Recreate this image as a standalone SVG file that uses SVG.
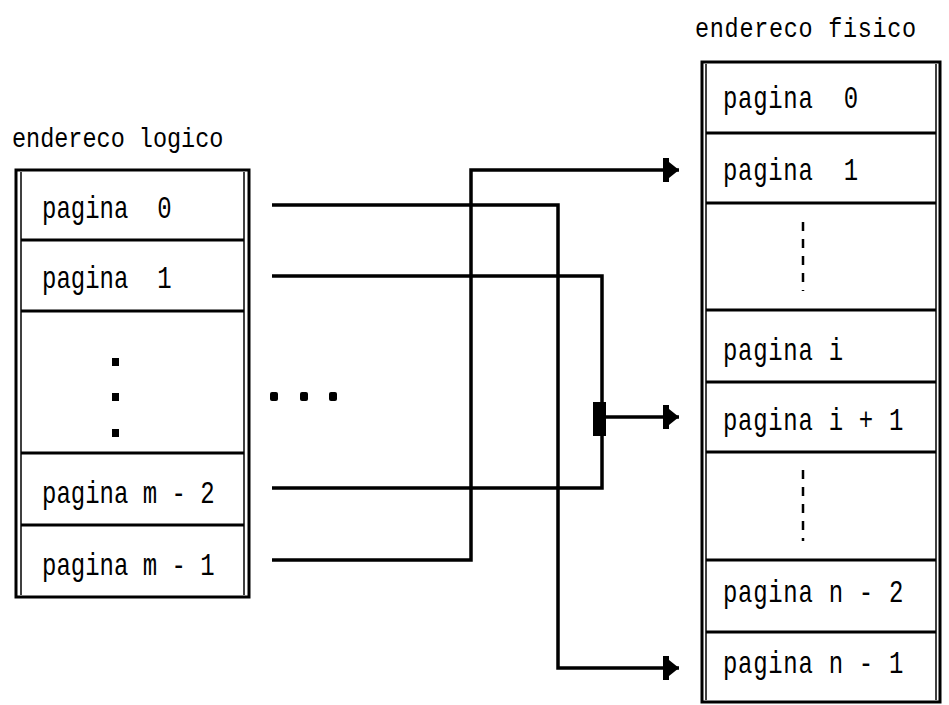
<svg xmlns="http://www.w3.org/2000/svg" width="949" height="705" viewBox="0 0 949 705">
  <style>
    .lbl { font-family: "Liberation Mono", "DejaVu Sans Mono", monospace; font-size: 24px; fill: #000; white-space: pre; }
    .wide { letter-spacing: 0.7px; }
    .ttl { font-family: "Liberation Mono", "DejaVu Sans Mono", monospace; font-size: 23.5px; fill: #000; }
    .frame { fill: #fff; stroke: #000; stroke-width: 3; }
    .inner { stroke: #000; stroke-width: 1.5; fill: none; }
    .div { stroke: #000; stroke-width: 3; }
    .wire { fill: none; stroke: #000; stroke-width: 3.5; stroke-linejoin: miter; }
    .dash { stroke: #000; stroke-width: 2.5; stroke-dasharray: 9 8; }
  </style>
  <defs>
    <marker id="head" markerUnits="userSpaceOnUse" markerWidth="18" markerHeight="26" refX="16" refY="13" orient="auto" viewBox="0 0 18 26">
      <path d="M0,1 H6 V5 L16,13 L6,21 V25 H0 Z" fill="#000"/>
    </marker>
  </defs>
  <rect width="949" height="705" fill="#fff"/>

  <!-- logical address space -->
  <text class="ttl" transform="translate(12,147) scale(1,1.2)">endereco logico</text>
  <g id="logico">
    <rect class="frame" x="16" y="170" width="233" height="427"/>
    <line class="inner" x1="21" y1="172" x2="21" y2="595"/>
    <line class="inner" x1="244" y1="172" x2="244" y2="595"/>
    <line class="div" x1="21" y1="240" x2="244" y2="240"/>
    <line class="div" x1="21" y1="311" x2="244" y2="311"/>
    <line class="div" x1="21" y1="453" x2="244" y2="453"/>
    <line class="div" x1="21" y1="525" x2="244" y2="525"/>
  </g>
  <g id="log-p0"><text class="lbl" xml:space="preserve" transform="translate(42,218) scale(1,1.33)">pagina  0</text></g>
  <g id="log-p1"><text class="lbl" xml:space="preserve" transform="translate(42,288) scale(1,1.33)">pagina  1</text></g>
  <g id="log-gap">
    <rect x="112" y="358" width="7" height="8"/>
    <rect x="112" y="393" width="7" height="8"/>
    <rect x="112" y="429" width="7" height="8"/>
  </g>
  <g id="log-pm2"><text class="lbl" transform="translate(42,503) scale(1,1.33)">pagina m - 2</text></g>
  <g id="log-pm1"><text class="lbl" transform="translate(42,575) scale(1,1.33)">pagina m - 1</text></g>

  <!-- physical address space -->
  <text class="ttl" transform="translate(695,37) scale(1,1.2)" letter-spacing="0.7">endereco fisico</text>
  <g id="fisico">
    <rect class="frame" x="702" y="62" width="238" height="640"/>
    <line class="inner" x1="706" y1="64" x2="706" y2="700"/>
    <line class="inner" x1="936" y1="64" x2="936" y2="700"/>
    <line class="div" x1="706" y1="133" x2="936" y2="133"/>
    <line class="div" x1="706" y1="203" x2="936" y2="203"/>
    <line class="div" x1="706" y1="310" x2="936" y2="310"/>
    <line class="div" x1="706" y1="382" x2="936" y2="382"/>
    <line class="div" x1="706" y1="452" x2="936" y2="452"/>
    <line class="div" x1="706" y1="560" x2="936" y2="560"/>
    <line class="div" x1="706" y1="632" x2="936" y2="632"/>
  </g>
  <g id="fis-p0"><text class="lbl wide" xml:space="preserve" transform="translate(723,108) scale(1,1.33)">pagina  0</text></g>
  <g id="fis-p1"><text class="lbl wide" xml:space="preserve" transform="translate(723,180) scale(1,1.33)">pagina  1</text></g>
  <g id="fis-gap1"><line class="dash" x1="803" y1="222" x2="803" y2="291"/></g>
  <g id="fis-pi"><text class="lbl wide" transform="translate(723,360) scale(1,1.33)">pagina i</text></g>
  <g id="fis-pi1"><text class="lbl wide" transform="translate(723,430) scale(1,1.33)">pagina i + 1</text></g>
  <g id="fis-gap2"><line class="dash" x1="803" y1="470" x2="803" y2="541"/></g>
  <g id="fis-pn2"><text class="lbl wide" transform="translate(723,602) scale(1,1.33)">pagina n - 2</text></g>
  <g id="fis-pn1"><text class="lbl wide" transform="translate(723,673) scale(1,1.33)">pagina n - 1</text></g>

  <!-- ellipsis between the two tables -->
  <g id="ellipsis">
    <rect x="270" y="392" width="8" height="9" rx="2"/>
    <rect x="300" y="392" width="8" height="9" rx="2"/>
    <rect x="329" y="392" width="8" height="9" rx="2"/>
  </g>

  <!-- page mappings -->
  <g id="connectors">
    <path class="wire" d="M272,205 H558 V668 H679" marker-end="url(#head)"/>
    <path class="wire" d="M272,276 H602 V488 H272"/>
    <rect x="593" y="402" width="13" height="34"/>
    <path class="wire" d="M606,417 H679" marker-end="url(#head)"/>
    <path class="wire" d="M272,560 H471 V170 H679" marker-end="url(#head)"/>
  </g>
</svg>
